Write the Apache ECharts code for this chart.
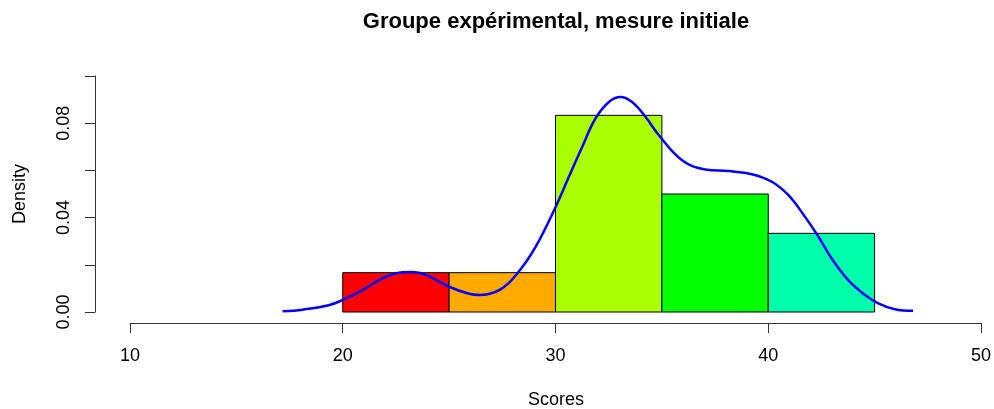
<!DOCTYPE html>
<html>
<head>
<meta charset="utf-8">
<script src="https://cdn.jsdelivr.net/npm/echarts@6/dist/echarts.min.js"></script>
<style>html,body{margin:0;padding:0;background:#fff}#c{width:994px;height:409px}</style>
</head>
<body>
<div id="c"></div>
<script>
const breaks = [20, 25, 30, 35, 40, 45];
const densities = [0.016667, 0.016667, 0.083333, 0.05, 0.033333];
const barColors = ['#FF0000', '#FFAA00', '#AAFF00', '#00FF00', '#00FFAA'];
const curveX = [17.17, 18.13, 19.38, 20.0, 20.94, 21.88, 22.82, 23.28, 23.91, 25.0, 25.94, 26.41, 27.35, 28.21, 29.07, 30.01, 30.63, 31.26, 31.88, 32.51, 33.06, 33.6, 34.23, 34.85, 35.95, 37.04, 38.14, 39.23, 40.17, 40.95, 41.73, 42.36, 42.98, 43.76, 44.55, 45.17, 45.95, 46.81];
const curveY = [0.0003, 0.0010, 0.0030, 0.0051, 0.0093, 0.0143, 0.0168, 0.0169, 0.0157, 0.0107, 0.0077, 0.0072, 0.0093, 0.0164, 0.0277, 0.0446, 0.0573, 0.0700, 0.0820, 0.0890, 0.0911, 0.0890, 0.0827, 0.0750, 0.0643, 0.0604, 0.0597, 0.0584, 0.0552, 0.0495, 0.0403, 0.0319, 0.0227, 0.0135, 0.0072, 0.0037, 0.0012, 0.0005];
const xTicks = [10, 20, 30, 40, 50];
const yTickLabels = ['0.00', '0.04', '0.08'];
const titleText = 'Groupe expérimental, mesure initiale';
const xName = 'Scores';
const yName = 'Density';

const FONT = '"Liberation Sans", Arial, sans-serif';
const barData = densities.map((d, i) => [breaks[i], breaks[i + 1], d, i]);
const lineData = curveX.map((x, i) => [x, curveY[i]]);

const chart = echarts.init(document.getElementById('c'), null, {renderer: 'canvas'});
chart.setOption({
  animation: false,
  backgroundColor: '#fff',
  grid: {left: 130, right: 11, top: 76, bottom: 97, containLabel: false},
  xAxis: {
    type: 'value', min: xTicks[0], max: xTicks[xTicks.length - 1], interval: 10,
    offset: 11,
    splitLine: {show: false},
    axisLine: {show: true, onZero: false, lineStyle: {color: '#333', width: 1}},
    axisTick: {show: true, length: 10, lineStyle: {color: '#333'}},
    axisLabel: {color: '#000', fontFamily: FONT, fontSize: 18, margin: 24}
  },
  yAxis: {
    type: 'value', min: 0, max: 0.10, interval: 0.02,
    offset: 35,
    splitLine: {show: false},
    axisLine: {show: true, onZero: false, lineStyle: {color: '#333', width: 1}},
    axisTick: {show: true, length: 10, lineStyle: {color: '#333'}},
    axisLabel: {
      color: '#000', fontFamily: FONT, fontSize: 18, margin: 22, rotate: 90,
      formatter: function (v) {
        const s = v.toFixed(2);
        return yTickLabels.indexOf(s) >= 0 ? s : '';
      }
    }
  },
  graphic: [
    {type: 'text', x: 556, y: 22, style: {text: titleText, fill: '#000', font: 'bold 22px ' + FONT, textAlign: 'center', textVerticalAlign: 'middle'}},
    {type: 'text', x: 556, y: 400, style: {text: xName, fill: '#000', font: '18px ' + FONT, textAlign: 'center', textVerticalAlign: 'middle'}},
    {type: 'text', x: 20, y: 194, rotation: Math.PI / 2, style: {text: yName, fill: '#000', font: '18px ' + FONT, textAlign: 'center', textVerticalAlign: 'middle'}}
  ],
  series: [
    {
      type: 'custom',
      data: barData,
      encode: {x: [0, 1], y: 2},
      renderItem: function (params, api) {
        const p0 = api.coord([api.value(0), api.value(2)]);
        const p1 = api.coord([api.value(1), 0]);
        return {
          type: 'rect',
          shape: {x: p0[0], y: p0[1], width: p1[0] - p0[0], height: p1[1] - p0[1]},
          style: {fill: barColors[api.value(3)], stroke: '#000', lineWidth: 1}
        };
      },
      z: 2
    },
    {
      type: 'line',
      data: lineData,
      smooth: 0.4,
      showSymbol: false,
      lineStyle: {color: '#0000FF', width: 2.5},
      z: 5
    }
  ]
});
</script>
</body>
</html>
